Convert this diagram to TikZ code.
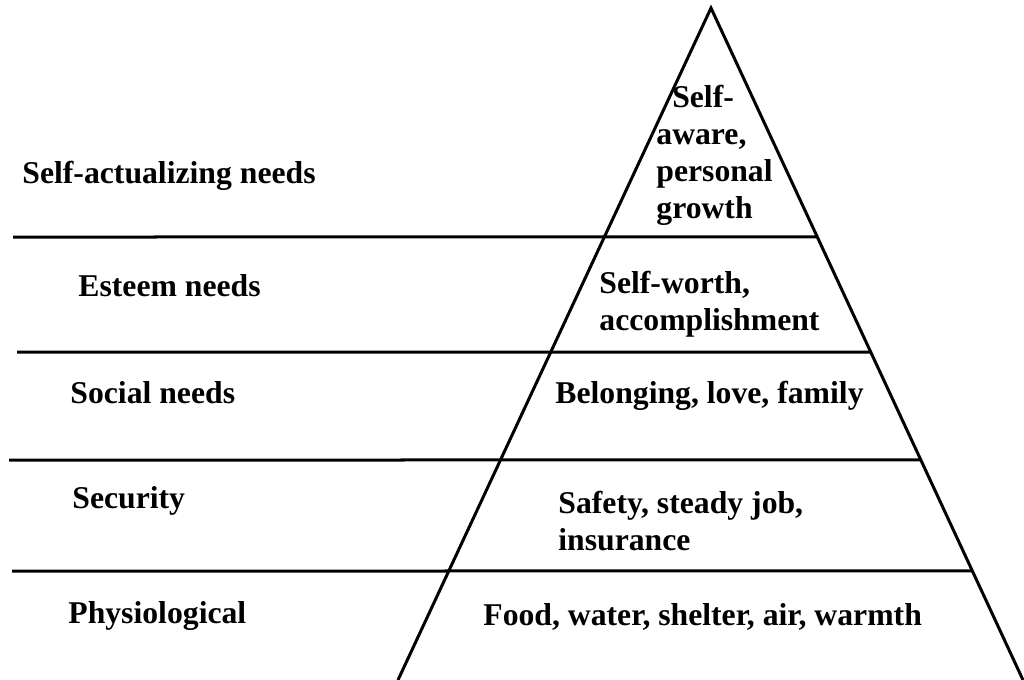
\documentclass[tikz,border=0pt]{standalone}
\usepackage{fontspec}
\setmainfont{Liberation Serif}
\usepackage{xcolor}
\usepackage{tikz}
\usetikzlibrary{calc}
\definecolor{ink}{HTML}{000000}
\tikzset{
  side/.style={draw=ink, line width=1.5pt},
  tier/.style={draw=ink, line width=1.5pt},
  lab/.style={text=ink, font=\fontsize{15.85}{18.5}\selectfont\bfseries, inner sep=0pt, anchor=base west},
  labm/.style={lab, align=left},
}

\begin{document}
\begin{tikzpicture}[x=0.5pt,y=-0.5pt]
\useasboundingbox (0,0) rectangle (1024,680);
% pyramid
\coordinate (apex) at (711,8);
\coordinate (bl) at (398,680);
\coordinate (br) at (1023,680);
\draw[side] (bl) -- (apex) -- (br);
% tier lines, left end to the right side
\coordinate (s1) at (13,237);
\coordinate (s2) at (17,352);
\coordinate (s3) at (9,460);
\coordinate (s4) at (12,571);
\coordinate (e1) at ($(apex)!{229/672}!(br)$);
\coordinate (e2) at ($(apex)!{344/672}!(br)$);
\coordinate (e3) at ($(apex)!{452/672}!(br)$);
\coordinate (e4) at ($(apex)!{563/672}!(br)$);
\draw[tier] (s1) -- (e1);
\draw[tier] (s2) -- (e2);
\draw[tier] (s3) -- (e3);
\draw[tier] (s4) -- (e4);
% needs
\node[lab] (selfact) at (22,183) {Self-actualizing needs};
\node[lab] (esteem) at (78,296) {Esteem needs};
\node[lab] (social) at (70,403) {Social needs};
\node[lab] (security) at (72,508) {Security};
\node[lab] (physio) at (68,623) {Physiological};
% examples (multi-line: base is the last line)
\node[labm] (growth) at (656,218) {\hspace*{0.5em}Self-\\aware,\\personal\\growth};
\node[labm] (worth) at (599,330) {Self-worth,\\accomplishment};
\node[lab] (belong) at (555,403) {Belonging, love, family};
\node[labm] (safety) at (558,550) {Safety, steady job,\\insurance};
\node[lab] (food) at (483,625) {Food, water, shelter, air, warmth};
\end{tikzpicture}
\end{document}
